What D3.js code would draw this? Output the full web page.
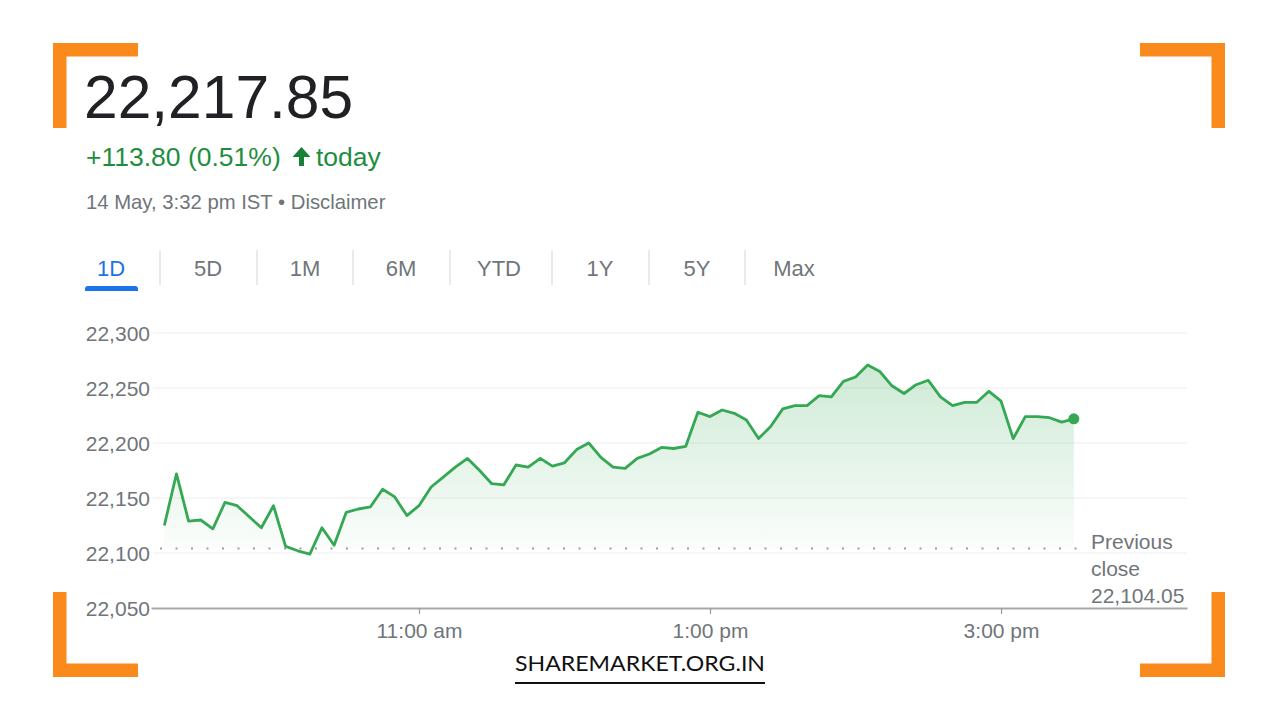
<!DOCTYPE html>
<html>
<head>
<meta charset="utf-8">
<script src="https://cdn.jsdelivr.net/npm/d3@7"></script>
<style>
  html, body { margin: 0; padding: 0; background: #fff; }
  svg { display: block; font-family: "Liberation Sans", Arial, sans-serif; }
</style>
</head>
<body>
<svg id="chart" width="1280" height="720"></svg>
<script>
// ---------- data ----------
const times = [
  "09:15","09:20","09:25","09:30","09:35","09:40","09:45","09:50","09:55",
  "10:00","10:05","10:10","10:15","10:20","10:25","10:30","10:35","10:40","10:45","10:50","10:55",
  "11:00","11:05","11:10","11:15","11:20","11:25","11:30","11:35","11:40","11:45","11:50","11:55",
  "12:00","12:05","12:10","12:15","12:20","12:25","12:30","12:35","12:40","12:45","12:50","12:55",
  "13:00","13:05","13:10","13:15","13:20","13:25","13:30","13:35","13:40","13:45","13:50","13:55",
  "14:00","14:05","14:10","14:15","14:20","14:25","14:30","14:35","14:40","14:45","14:50","14:55",
  "15:00","15:05","15:10","15:15","15:20","15:25","15:30"
];
const prices = [
  22125,22172,22129,22130,22122,22146,22143,22133,22123,
  22143,22106,22102,22099,22123,22107,22137,22140,22142,22158,22151,22134,
  22143,22160,22169,22178,22186,22175,22163,22162,22180,22178,22186,22179,
  22182,22194,22200,22187,22178,22177,22186,22190,22196,22195,22197,22228,
  22224,22230,22227,22221,22204,22215,22231,22234,22234,22243,22242,22256,
  22260,22271,22265,22252,22245,22253,22257,22242,22234,22237,22237,22247,
  22238,22204,22224,22224,22223,22219,22222
];
const yTicks = [22050, 22100, 22150, 22200, 22250, 22300];
const xTickTimes = ["11:00", "13:00", "15:00"];
const xDomainTimes = ["09:09:30", "16:16:40"];
const previousClose = 22104.05;
const lastPrice = "22,217.85";
const changeText = "+113.80 (0.51%)";
const dateText = "14 May, 3:32 pm IST • Disclaimer";
const tabs = ["1D", "5D", "1M", "6M", "YTD", "1Y", "5Y", "Max"];
const watermark = "SHAREMARKET.ORG.IN";

// ---------- setup ----------
const svg = d3.select("#chart");
const parseHM = d3.timeParse("%H:%M");
const parseHMS = d3.timeParse("%H:%M:%S");
const data = times.map((t, i) => ({ t: parseHM(t), v: prices[i] }));

const GREEN = "#34a853";
const GRAY = "#70757a";
const ORANGE = "#fb8a1c";

const x = d3.scaleTime()
  .domain(xDomainTimes.map(parseHMS))
  .range([151, 1187]);
const y = d3.scaleLinear()
  .domain([22050, 22300])
  .range([608, 333]);

// ---------- header ----------
svg.append("text").attr("x", 84).attr("y", 118)
  .attr("font-size", 60.5).attr("fill", "#202124").text(lastPrice);

svg.append("text").attr("x", 86).attr("y", 166)
  .attr("font-size", 26.5).attr("fill", "#1e8e3e").text(changeText);
// arrow icon
svg.append("path")
  .attr("d", "M292.5,157 L301.5,147 L310.5,157 L304,157 L304,166 L299,166 L299,157 Z")
  .attr("fill", "#188038");
svg.append("text").attr("x", 316).attr("y", 166)
  .attr("font-size", 26.5).attr("fill", "#1e8e3e").text("today");

svg.append("text").attr("x", 86).attr("y", 209)
  .attr("font-size", 20.3).attr("fill", GRAY).text(dateText);

// ---------- tabs ----------
const tabCenters = [111, 208, 305, 401, 499, 600, 697, 794];
const sepX = [160, 257, 353, 450, 552, 649, 745];
svg.selectAll(".tab").data(tabs).enter().append("text")
  .attr("class", "tab")
  .attr("x", (d, i) => tabCenters[i]).attr("y", 276)
  .attr("text-anchor", "middle").attr("font-size", 22)
  .attr("fill", (d, i) => i === 0 ? "#1a73e8" : GRAY)
  .text(d => d);
svg.selectAll(".sep").data(sepX).enter().append("line")
  .attr("x1", d => d).attr("x2", d => d).attr("y1", 250).attr("y2", 285)
  .attr("stroke", "#e3e3e3").attr("stroke-width", 1.5);
svg.append("path")
  .attr("d", "M85,291 L85,289 Q85,286 88,286 L135,286 Q138,286 138,289 L138,291 Z")
  .attr("fill", "#1a73e8");

// ---------- gridlines ----------
svg.append("g").selectAll("line").data(yTicks.filter(d => d !== 22050)).enter()
  .append("line")
  .attr("x1", 153).attr("x2", 1187)
  .attr("y1", d => y(d)).attr("y2", d => y(d))
  .attr("stroke", "#f3f3f3").attr("stroke-width", 1.5);

// ---------- area ----------
const defs = svg.append("defs");
const grad = defs.append("linearGradient").attr("id", "areaGrad")
  .attr("gradientUnits", "userSpaceOnUse")
  .attr("x1", 0).attr("x2", 0)
  .attr("y1", y(22275)).attr("y2", y(previousClose));
grad.append("stop").attr("offset", 0).attr("stop-color", GREEN).attr("stop-opacity", 0.25);
grad.append("stop").attr("offset", 1).attr("stop-color", GREEN).attr("stop-opacity", 0.02);

const clip = defs.append("clipPath").attr("id", "aboveClose");
clip.append("rect").attr("x", 0).attr("y", 0).attr("width", 1280).attr("height", y(previousClose));

svg.append("path")
  .datum(data)
  .attr("clip-path", "url(#aboveClose)")
  .attr("fill", "url(#areaGrad)")
  .attr("d", d3.area().x(d => x(d.t)).y0(y(previousClose)).y1(d => y(d.v)));

// ---------- previous close dotted line ----------
svg.append("line")
  .attr("x1", 160).attr("x2", 1089)
  .attr("y1", y(previousClose)).attr("y2", y(previousClose))
  .attr("stroke", "#9a9ea3").attr("stroke-width", 2)
  .attr("stroke-dasharray", "2,13.5");

// ---------- line ----------
svg.append("path")
  .datum(data)
  .attr("fill", "none")
  .attr("stroke", GREEN).attr("stroke-width", 2.8)
  .attr("stroke-linejoin", "round")
  .attr("d", d3.line().x(d => x(d.t)).y(d => y(d.v)));

const last = data[data.length - 1];
svg.append("circle")
  .attr("cx", x(last.t)).attr("cy", y(last.v)).attr("r", 5.5)
  .attr("fill", GREEN);

// ---------- axes ----------
const fmtTime = d3.timeFormat("%-I:%M %p");
const xAxis = d3.axisBottom(x)
  .tickValues(xTickTimes.map(parseHM))
  .tickSizeInner(6).tickSizeOuter(0).tickPadding(9)
  .tickFormat(d => fmtTime(d).toLowerCase());
const gx = svg.append("g").attr("transform", "translate(0,608)").call(xAxis);
gx.select(".domain").attr("stroke", "#a8a8a8").attr("stroke-width", 2);
gx.selectAll(".tick line").attr("stroke", "#9a9a9a").attr("stroke-width", 1.2);
gx.selectAll(".tick text").attr("fill", GRAY).attr("font-size", 21)
  .attr("font-family", "Liberation Sans, Arial, sans-serif");

const yAxis = d3.axisLeft(y).tickValues(yTicks).tickSize(0).tickPadding(0)
  .tickFormat(d3.format(","));
const gy = svg.append("g").attr("transform", "translate(150,0)").call(yAxis);
gy.select(".domain").remove();
gy.selectAll(".tick text").attr("fill", GRAY).attr("font-size", 21)
  .attr("font-family", "Liberation Sans, Arial, sans-serif").attr("dy", "0.36em");

// ---------- previous close label ----------
const pcLines = ["Previous", "close", d3.format(",.2f")(previousClose)];
svg.selectAll(".pc").data(pcLines).enter().append("text")
  .attr("x", 1091).attr("y", (d, i) => 549 + i * 27)
  .attr("font-size", 21).attr("fill", GRAY).text(d => d);

// ---------- orange corner brackets ----------
const T = 13.5, L = 85;
const corners = [
  { x: 53, y: 43, sx: 1, sy: 1 },
  { x: 1225, y: 43, sx: -1, sy: 1 },
  { x: 53, y: 677, sx: 1, sy: -1 },
  { x: 1225, y: 677, sx: -1, sy: -1 }
];
corners.forEach(c => {
  svg.append("path")
    .attr("d", `M${c.x},${c.y} h${c.sx * L} v${c.sy * T} h${-c.sx * (L - T)} v${c.sy * (L - T)} h${-c.sx * T} Z`)
    .attr("fill", ORANGE);
});

// ---------- watermark ----------
svg.append("text").attr("x", 515).attr("y", 671)
  .attr("font-family", "Lato, 'Open Sans', sans-serif")
  .attr("font-size", 21).attr("fill", "#111")
  .attr("textLength", 250).attr("lengthAdjust", "spacingAndGlyphs")
  .text(watermark);
svg.append("rect").attr("x", 515).attr("y", 682).attr("width", 250).attr("height", 2)
  .attr("fill", "#111");
</script>
</body>
</html>
